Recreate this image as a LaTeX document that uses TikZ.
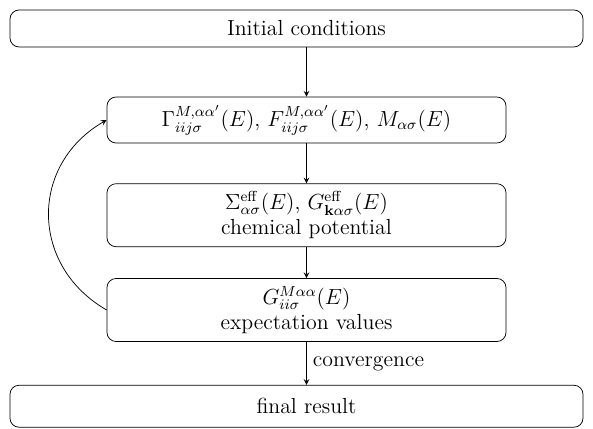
\documentclass[tikz,border=0pt]{standalone}
\usepackage{amsmath}
\usepackage{tikz}
\usetikzlibrary{positioning}
\usetikzlibrary{arrows}

\begin{document}
\begin{tikzpicture}[
  stage/.style={draw, rounded corners=5pt, align=center, inner sep=1pt, font=\large},
  wide/.style={stage, minimum width=11.065cm},
  inner/.style={stage, minimum width=7.705cm},
  flow/.style={-stealth}
]
\useasboundingbox (0, 0) rectangle (11.45, -8.28);

% Start (text sits on the axis of the inner boxes)
\node[wide, minimum height=0.714cm] (init) at (5.725, -0.55) {\hspace*{0.386cm}Initial conditions};

% Self-consistency loop
\node[inner, minimum height=0.888cm] (vertex) at (5.918, -2.317) {%
$\Gamma^{M,\alpha\alpha'}_{iij\sigma}(E)$, $F^{M,\alpha\alpha'}_{iij\sigma}(E)$, $M_{\alpha\sigma}(E)$};
\node[inner, minimum height=1.217cm, below=0.772cm of vertex] (selfenergy) {%
$\Sigma^{\text{eff}}_{\alpha\sigma}(E)$, $G^{\text{eff}}_{\mathbf{k}\alpha\sigma}(E)$\\
chemical potential};
\node[inner, minimum height=1.217cm, below=0.599cm of selfenergy] (local) {%
$G^{M\alpha\alpha}_{ii\sigma}(E)$\\
expectation values};

% End
\node[wide, minimum height=0.811cm, below=0.83cm of local, xshift=-0.193cm] (result) {\hspace*{0.386cm}final result};

% Edges
\draw[flow] (init.south -| vertex.north) to (vertex.north);
\draw[flow] (vertex.south) to (selfenergy.north);
\draw[flow] (selfenergy.south) to (local.north);
\draw[flow] (local.south) to node[right, font=\large]{convergence} (local.south |- result.north);
\draw[flow] (local.west) to[bend left=60, looseness=1.2] (vertex.west);
\end{tikzpicture}
\end{document}
